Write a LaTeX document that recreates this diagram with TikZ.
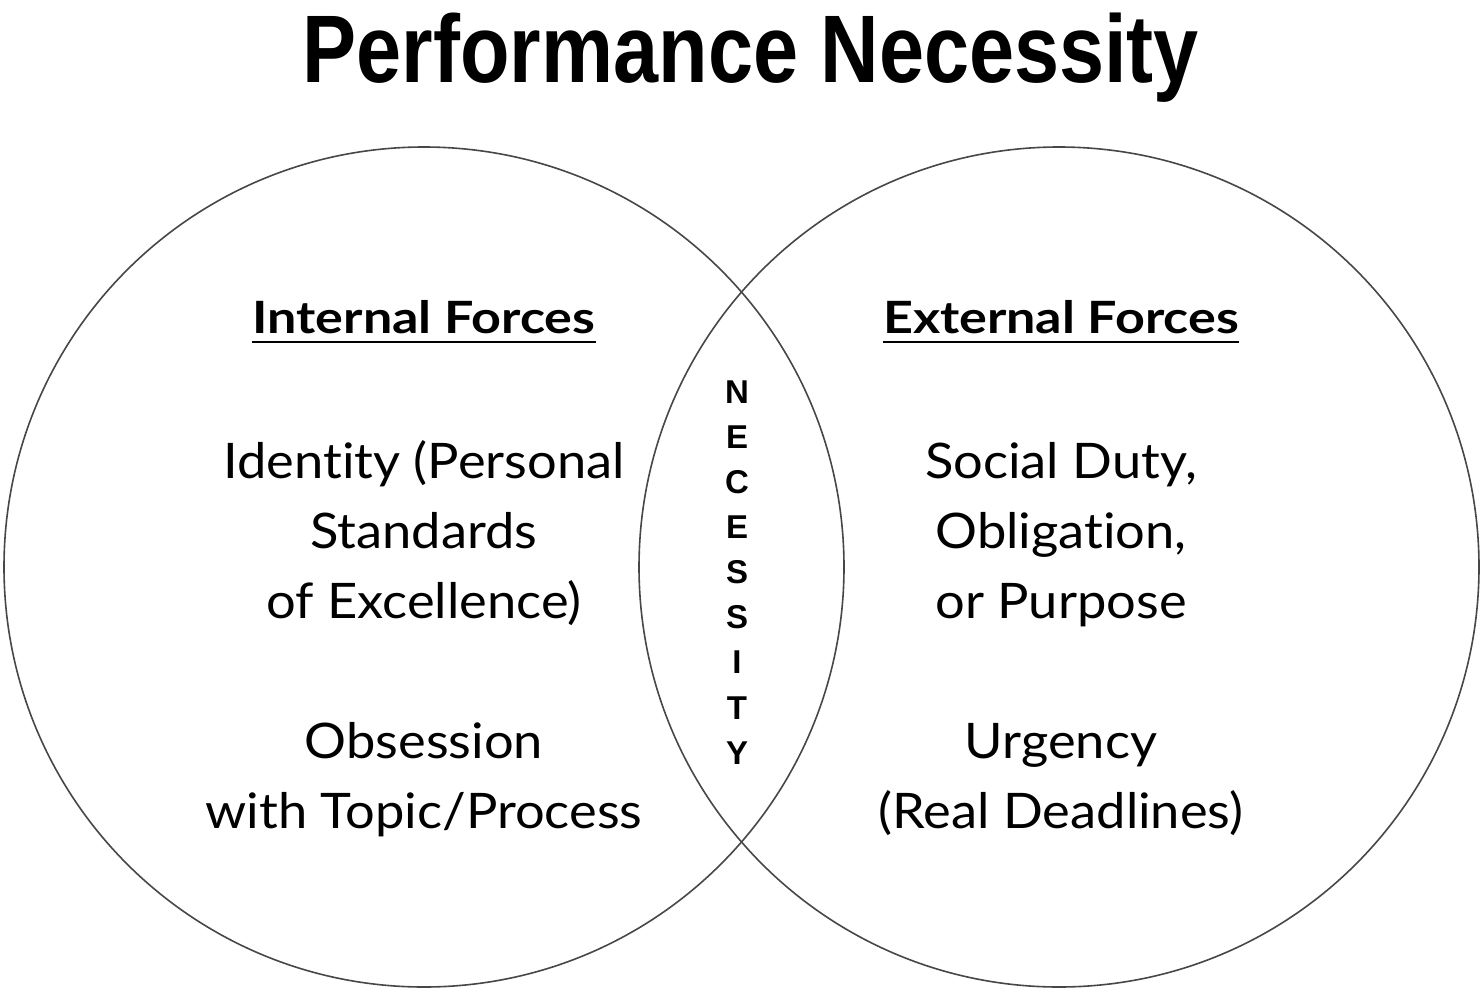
\documentclass[tikz,border=0pt]{standalone}
\usepackage{fontspec}
\setmainfont{Lato}[Ligatures=NoCommon]
\newfontfamily\bodyfont{Lato}[Ligatures=NoCommon,FakeStretch=1.07]
\newfontfamily\headfont{Lato}[Ligatures=NoCommon,FakeStretch=1.17]
\newfontfamily\titlefont{Liberation Sans}
\begin{document}
\begin{tikzpicture}[x=1pt,y=-1pt,
  venn/.style={draw=black!72,line width=1.6pt},
  body/.style={inner sep=0pt,anchor=base,font=\bodyfont\fontsize{49}{49}\selectfont},
  head/.style={inner sep=0pt,anchor=base,font=\headfont\bfseries\fontsize{44.5}{45}\selectfont},
  letter/.style={inner sep=0pt,anchor=center,font=\titlefont\bfseries\fontsize{33}{33}\selectfont}]
\useasboundingbox (0,0) rectangle (1482,999);
\fill[white] (0,0) rectangle (1482,999);
\node[venn,circle,minimum size=840pt,inner sep=0pt] (L) at (424,567) {};
\node[venn,circle,minimum size=840pt,inner sep=0pt] (R) at (1059,567) {};
\node[inner sep=0pt,anchor=base,font=\titlefont\bfseries\fontsize{96}{96}\selectfont] (title) at (751,82) {\scalebox{0.844}[1]{Performance Necessity}};
\node[head] (hl) at (424,333) {Internal Forces};
\node[head] (hr) at (1061,333) {External Forces};
\draw[line width=1.8pt] ([yshift=-9pt]hl.base west) -- ([yshift=-9pt]hl.base east);
\draw[line width=1.8pt] ([yshift=-9pt]hr.base west) -- ([yshift=-9pt]hr.base east);
\node[body] (l1) at (424,478) {Identity (Personal};
\node[body] (l2) at (424,548) {Standards};
\node[body] (l3) at (424,618) {of Excellence)};
\node[body] (l4) at (424,758) {Obsession};
\node[body] (l5) at (424,828) {with Topic/Process};
\node[body] (r1) at (1061,478) {Social Duty,};
\node[body] (r2) at (1061,548) {Obligation,};
\node[body] (r3) at (1061,618) {or Purpose};
\node[body] (r4) at (1061,758) {Urgency};
\node[body] (r5) at (1061,828) {(Real Deadlines)};
\foreach \c [count=\i from 0] in {N,E,C,E,S,S,I,T,Y}
  \node[letter] (n\i) at (737,392+45.1*\i) {\c};
\end{tikzpicture}
\end{document}
